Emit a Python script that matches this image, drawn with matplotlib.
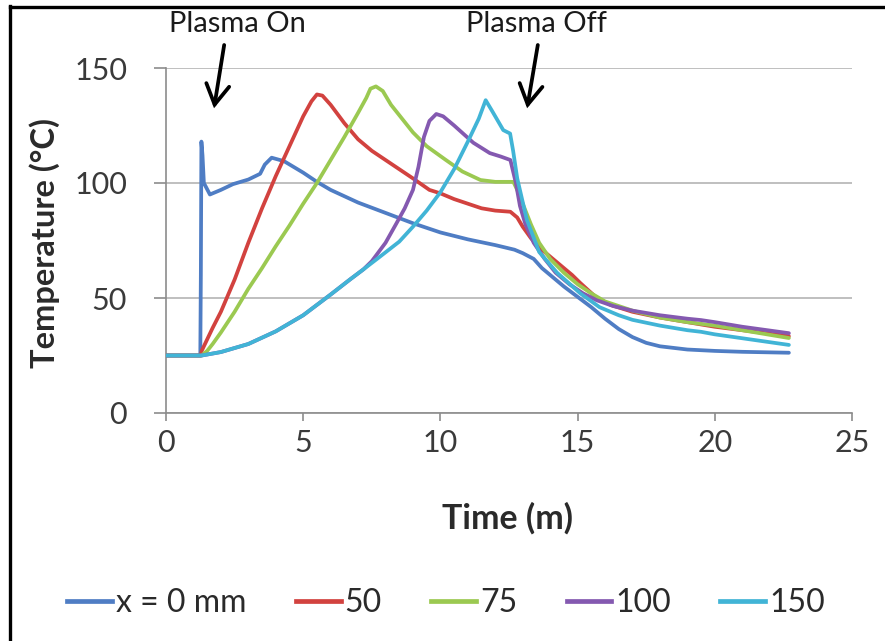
import matplotlib
matplotlib.use("Agg")
import matplotlib.pyplot as plt
from matplotlib.lines import Line2D

plt.rcParams['font.family'] = ['Lato', 'DejaVu Sans']

# ---- data: time (min) and temperature (°C) at each probe position ----
time_0mm = [0, 1.25, 1.27, 1.29, 1.33, 1.38, 1.6, 2.0, 2.44, 3.0, 3.43, 3.6, 3.85, 4.3,
            5.0, 5.5, 6.0, 7.0, 8.0, 9.0, 10.0, 11.0, 12.0, 12.7, 13.0, 13.4, 13.7,
            14.0, 14.5, 15.0, 15.5, 16.0, 16.5, 17.0, 17.5, 18.0, 19.0, 20.0, 21.0, 22.7]
temp_0mm = [25, 25, 60, 118, 112, 100, 95, 97, 99.5, 101.5, 104, 108, 111, 109.5,
            104.5, 100.5, 97, 91.5, 87, 82.5, 78.5, 75.5, 73, 71, 69.5, 67, 63,
            60, 55, 50.5, 46, 41, 36.5, 33, 30.5, 29, 27.6, 27, 26.6, 26.2]

time_50mm = [0, 1.27, 1.3, 1.42, 1.7, 2.0, 2.5, 3.0, 3.5, 4.0, 4.5, 5.0, 5.3, 5.5, 5.7,
             6.0, 6.5, 7.0, 7.5, 8.0, 8.5, 9.0, 9.6, 10.0, 10.5, 11.0, 11.5, 12.0, 12.55,
             12.8, 13.0, 13.3, 13.6, 14.0, 14.4, 14.8, 15.1, 15.7, 16.2, 17.0, 18.0,
             19.0, 20.0, 21.0, 22.7]
temp_50mm = [25, 25, 27, 30, 37, 44, 58, 74, 89, 103, 116, 129, 135.5, 138.5, 138,
             134, 126, 119, 114, 110, 106, 102, 97, 95.5, 93, 91, 89, 88, 87.5,
             85, 81, 76, 72, 68, 64, 60, 56.5, 50, 47, 44, 41.5, 39.5, 37.5, 36, 33.4]

time_75mm = [0, 1.3, 1.5, 1.7, 2.0, 2.5, 3.0, 3.5, 4.0, 4.5, 5.0, 5.5, 6.0, 6.5, 7.0,
             7.3, 7.45, 7.65, 7.9, 8.2, 8.6, 9.0, 9.5, 10.2, 10.8, 11.46, 12.0, 12.66,
             12.8, 13.0, 13.3, 13.6, 14.0, 14.5, 15.0, 15.5, 16.0, 17.0, 18.0, 19.0,
             20.0, 21.0, 22.7]
temp_75mm = [25, 25, 27, 30, 35, 44, 54, 63, 72.5, 81.5, 91, 100, 110, 120, 130.5,
             137, 141, 142, 140, 134, 128, 122, 116, 110, 105, 101.3, 100.5, 100.5,
             97, 91, 82, 74, 67, 61, 56, 52, 48.5, 44.5, 41.5, 39.5, 38, 36, 32.6]

time_100mm = [0, 1.3, 2.0, 3.0, 4.0, 5.0, 5.5, 6.0, 6.7, 7.2, 7.5, 8.0, 8.4, 8.7, 9.0,
              9.2, 9.4, 9.6, 9.85, 10.1, 10.5, 11.2, 11.8, 12.2, 12.55, 12.75, 12.9,
              13.1, 13.4, 13.8, 14.2, 14.7, 15.2, 15.7, 16.3, 17.0, 18.0, 19.0, 19.5,
              20.0, 21.0, 22.7]
temp_100mm = [25, 25, 26.5, 30, 35.5, 42.5, 47, 51.5, 58, 62.5, 66, 74, 82.5, 89, 97,
              107, 120, 127, 130, 129, 125, 117.5, 113, 111.5, 110, 100, 90,
              82, 74, 67, 61, 56, 52, 49, 46.5, 44.5, 42.5, 41, 40.4,
              39.5, 37.5, 34.7]

time_150mm = [0, 1.3, 2.0, 3.0, 4.0, 5.0, 5.5, 6.0, 6.7, 7.2, 7.8, 8.5, 9.0, 9.5, 10.0,
              10.5, 11.0, 11.4, 11.65, 11.9, 12.29, 12.54, 12.65, 12.8, 13.15, 13.6,
              14.25, 15.1, 15.8, 16.5, 17.0, 18.0, 19.0, 19.5, 20.0, 21.0, 22.7]
temp_150mm = [25, 25, 26.5, 30, 35.5, 42.5, 47, 51.5, 58, 62.5, 68, 74.5, 81, 88, 96,
              106, 118, 128, 136, 131, 123, 121.5, 114, 102, 84, 70,
              61, 52, 46, 42.5, 40.5, 38, 36, 35.3, 34.2, 32.5, 29.6]

series_labels = ["x = 0 mm", "50", "75", "100", "150"]
series_colors = ["#4F7DC4", "#D2423F", "#9BC951", "#8459B0", "#41B4D6"]

y_ticks = [0, 50, 100, 150]
x_ticks = [0, 5, 10, 15, 20, 25]

W, H = 885, 641
fig = plt.figure(figsize=(W / 100, H / 100), dpi=100)
ax = fig.add_axes([166 / W, 1 - 413 / H, (852 - 166) / W, (413 - 68) / H])

series = [(time_0mm, temp_0mm), (time_50mm, temp_50mm), (time_75mm, temp_75mm),
          (time_100mm, temp_100mm), (time_150mm, temp_150mm)]
for (t, T), lab, col in zip(series, series_labels, series_colors):
    ax.plot(t, T, color=col, lw=2.7, label=lab, solid_joinstyle='round',
            solid_capstyle='round', zorder=3)

ax.set_xlim(0, 25)
ax.set_ylim(0, 150)
ax.set_xticks(x_ticks)
ax.set_yticks(y_ticks)
ax.set_xticklabels([str(v) for v in x_ticks])
ax.set_yticklabels([str(v) for v in y_ticks])

axis_gray = "#8C8C8C"
for s in ("top", "right"):
    ax.spines[s].set_visible(False)
for s in ("left", "bottom"):
    ax.spines[s].set_color(axis_gray)
    ax.spines[s].set_linewidth(1.2)
ax.tick_params(axis='y', direction='out', length=9, width=1.2, color=axis_gray,
               pad=19, labelsize=22, labelcolor="#3A3A3A")
ax.tick_params(axis='x', direction='out', length=5.5, width=1.2, color=axis_gray,
               pad=6, labelsize=22, labelcolor="#3A3A3A")
ax.yaxis.grid(True, color="#B4B4B4", lw=1.2, zorder=0)
ax.set_axisbelow(True)

fig.text(45 / W, 1 - 243 / H, "Temperature (°C)", rotation=90, ha='center',
         va='center', fontsize=23.5, fontweight='bold', color="#2A2A2A")
fig.text(508 / W, 1 - 518 / H, "Time (m)", ha='center', va='center',
         fontsize=24.5, fontweight='bold', color="#2A2A2A")

# event markers
arrow_kw = dict(arrowstyle='->,head_length=0.55,head_width=0.32', color='black', lw=2.7,
                shrinkA=0, shrinkB=0, mutation_scale=26, capstyle='round',
                joinstyle='miter')
ax.annotate("", xy=(1.75, 132.5), xytext=(2.12, 160), xycoords='data',
            arrowprops=arrow_kw, annotation_clip=False)
ax.annotate("", xy=(13.16, 132.5), xytext=(13.55, 160), xycoords='data',
            arrowprops=arrow_kw, annotation_clip=False)
fig.text(237 / W, 1 - 24 / H, "Plasma On", ha='center', va='center',
         fontsize=21, color="#1A1A1A")
fig.text(536 / W, 1 - 24 / H, "Plasma Off", ha='center', va='center',
         fontsize=21, color="#1A1A1A")

handles = [Line2D([], [], color=c, lw=3.4) for c in series_colors]
fig.legend(handles, series_labels, loc='center', bbox_to_anchor=(446 / W, 1 - 603 / H),
           ncol=5, frameon=False, fontsize=23, handlelength=1.4, handletextpad=0.12,
           columnspacing=1.55, labelcolor="#2A2A2A")

# outer frame (left and top edges)
fig.add_artist(Line2D([10 / W, 10 / W], [0, 1 - 6 / H], color='black', lw=2.4,
                      transform=fig.transFigure))
fig.add_artist(Line2D([10 / W, 1], [1 - 6.5 / H, 1 - 6.5 / H], color='black', lw=2.4,
                      transform=fig.transFigure))

fig.savefig("out.png", dpi=100, facecolor='white')
